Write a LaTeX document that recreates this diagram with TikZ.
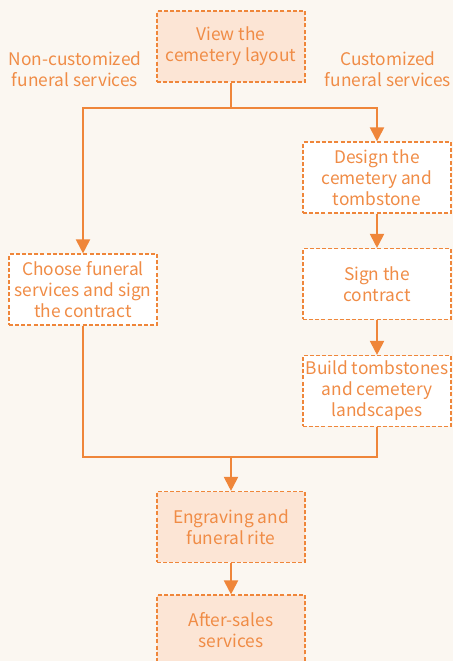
\documentclass[tikz,border=0pt]{standalone}
\usepackage{fontspec}
\setmainfont{Noto Sans CJK SC}
\usetikzlibrary{arrows.meta}
\definecolor{flowline}{RGB}{239,134,58}
\definecolor{flowtext}{RGB}{240,140,70}
\definecolor{peach}{RGB}{252,229,213}
\definecolor{paper}{RGB}{251,247,241}
\tikzset{
  stepbox/.style={draw=flowline,dash pattern=on 3pt off 1.6pt,line width=1.1pt,
    rectangle,minimum width=111pt,minimum height=53pt,align=center,
    text=flowtext,font=\fontsize{13}{15.8}\selectfont,inner sep=2pt},
  keybox/.style={stepbox,fill=peach},
  plainbox/.style={stepbox,fill=white},
  branch/.style={text=flowtext,align=center,font=\fontsize{13}{15.8}\selectfont},
  flow/.style={draw=flowline,line width=1.5pt},
}
\begin{document}
\begin{tikzpicture}[x=0.75pt,y=-0.75pt,thick]
  \fill[paper] (0,0) rectangle (453,661);
  \clip (0,0) rectangle (453,661);
  \useasboundingbox (0,0) rectangle (453,661);
  \node[keybox] (view) at (231,46.5) {View the\\cemetery layout};
  \node[branch] (noncustom) at (75,69) {Non-customized\\funeral services};
  \node[branch] (custom) at (388,69) {Customized\\funeral services};
  \node[plainbox] (design) at (377,177.5) {Design the\\cemetery and\\tombstone};
  \node[plainbox] (sign) at (377,284) {Sign the\\contract};
  \node[plainbox] (build) at (377,391) {Build tombstones\\and cemetery\\landscapes};
  \node[plainbox] (choose) at (83,289.5) {Choose funeral\\services and sign\\the contract};
  \node[keybox] (engrave) at (231,527) {Engraving and\\funeral rite};
  \node[keybox] (after) at (231,630.5) {After-sales\\services};
  \coordinate (split) at (231,108);
  \coordinate (merge) at (231,457);
  \draw[flow] (view) -- (split);
  \draw[flow,-{Triangle[width=10.5pt,length=10.5pt]}] (split) -| (choose);
  \draw[flow,-{Triangle[width=10.5pt,length=10.5pt]}] (split) -| (design);
  \draw[flow,-{Triangle[width=10.5pt,length=10.5pt]}] (design) -- (sign);
  \draw[flow,-{Triangle[width=10.5pt,length=10.5pt]}] (sign) -- (build);
  \draw[flow] (choose) |- (merge) -| (build);
  \draw[flow,-{Triangle[width=10.5pt,length=10.5pt]}] (merge) -- (engrave);
  \draw[flow,-{Triangle[width=10.5pt,length=10.5pt]}] (engrave) -- (after);
\end{tikzpicture}
\end{document}
